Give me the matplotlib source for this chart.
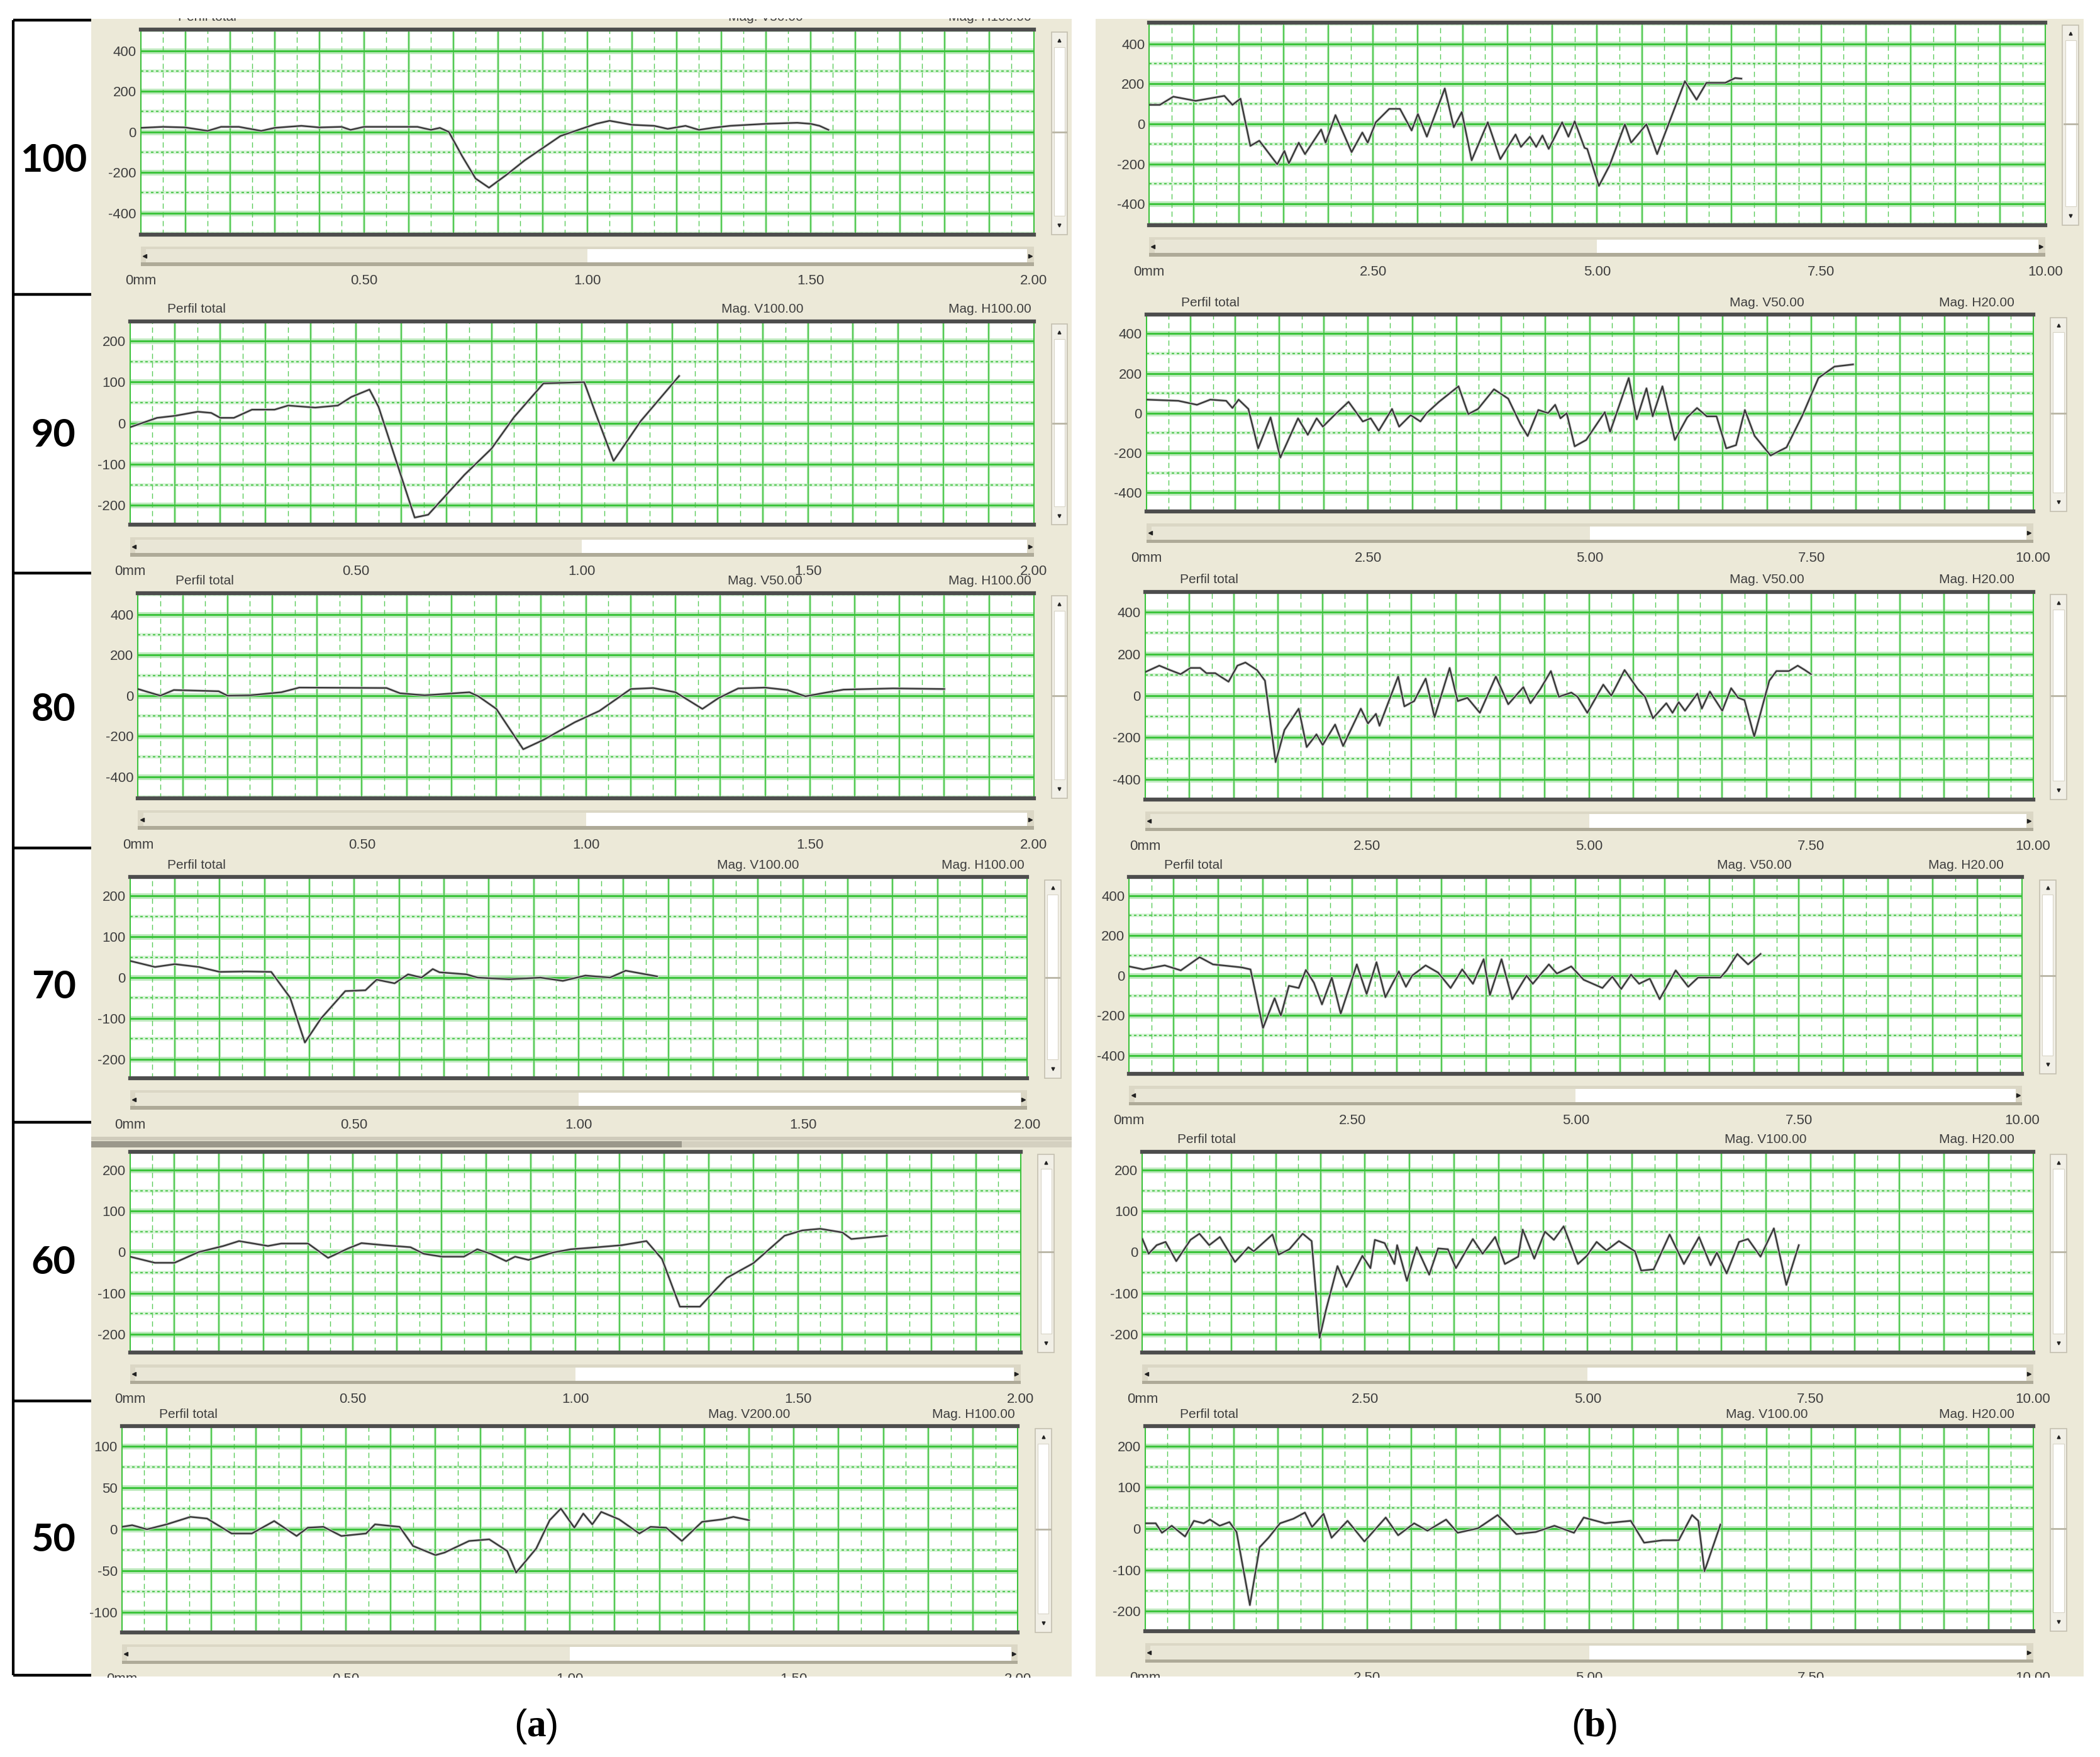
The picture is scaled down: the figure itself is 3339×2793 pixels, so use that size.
import numpy as np
import matplotlib
matplotlib.use("Agg")
import matplotlib.pyplot as plt
from matplotlib.patches import Rectangle

plt.rcParams["font.family"] = ["Liberation Sans", "DejaVu Sans"]
plt.rcParams["mathtext.fontset"] = "custom"
plt.rcParams["mathtext.rm"] = "Liberation Serif"
plt.rcParams["mathtext.bf"] = "Liberation Serif:bold"

# ---- profiles, column (a): distance in mm, height ----
a100_x = [0.00, 0.05, 0.10, 0.15, 0.18, 0.22, 0.27, 0.30, 0.36, 0.40, 0.45, 0.47, 0.50, 0.55, 0.62,
          0.65, 0.67, 0.69, 0.72, 0.75, 0.78, 0.82, 0.86, 0.90, 0.94, 0.98, 1.02, 1.05, 1.10, 1.15,
          1.18, 1.22, 1.25, 1.28, 1.32, 1.40, 1.47, 1.50, 1.52, 1.54]
a100_y = [20, 25, 22, 5, 25, 25, 5, 20, 30, 22, 25, 10, 25, 25, 25, 10, 20, 0, -120, -230,
          -275, -210, -140, -80, -20, 10, 40, 55, 35, 30, 15, 30, 10, 20, 30, 40, 45, 40, 30, 10]

a90_x = [0.00, 0.06, 0.10, 0.15, 0.18, 0.20, 0.23, 0.27, 0.32, 0.35, 0.41, 0.46, 0.49, 0.53, 0.55,
         0.63, 0.66, 0.74, 0.80, 0.85, 0.915, 1.005, 1.03, 1.07, 1.13, 1.215]
a90_y = [-10, 13, 18, 28, 25, 13, 13, 33, 33, 43, 38, 43, 64, 82, 40, -230, -223, -126, -62, 15,
         97, 100, 25, -92, 5, 115]

a80_x = [0.00, 0.05, 0.08, 0.18, 0.20, 0.25, 0.32, 0.36, 0.555, 0.585, 0.64, 0.74, 0.76, 0.80, 0.86,
         0.905, 0.975, 1.03, 1.10, 1.15, 1.20, 1.26, 1.295, 1.34, 1.40, 1.45, 1.49, 1.54, 1.575,
         1.685, 1.80]
a80_y = [33, 0, 28, 22, 0, 2, 17, 40, 38, 12, 2, 17, -3, -65, -264, -218, -131, -75, 33, 38, 17,
         -65, -13, 36, 40, 28, -3, 17, 30, 36, 33]

a70_x = [0.00, 0.056, 0.10, 0.154, 0.20, 0.26, 0.315, 0.357, 0.39, 0.426, 0.48, 0.525, 0.55, 0.59,
         0.62, 0.65, 0.675, 0.69, 0.75, 0.775, 0.845, 0.915, 0.965, 1.015, 1.07, 1.105, 1.14, 1.175]
a70_y = [41, 26, 33, 26, 14, 15, 14, -49, -159, -100, -33, -31, -5, -14, 8, 0, 21, 13, 8, 0, -4,
         0, -8, 5, 0, 17, 10, 3]

a60_x = [0.00, 0.056, 0.10, 0.154, 0.21, 0.245, 0.31, 0.34, 0.40, 0.445, 0.49, 0.52, 0.57, 0.63,
         0.66, 0.70, 0.75, 0.78, 0.81, 0.845, 0.865, 0.895, 0.95, 0.99, 1.05, 1.105, 1.16, 1.195,
         1.235, 1.28, 1.34, 1.40, 1.47, 1.51, 1.55, 1.60, 1.62, 1.65, 1.70]
a60_y = [-11, -26, -26, 0, 15, 27, 15, 21, 21, -14, 9, 22, 17, 12, -4, -11, -11, 7, -4, -22, -11,
         -19, -1, 7, 12, 17, 27, -17, -133, -133, -63, -27, 40, 53, 57, 48, 32, 35, 40]

a50_x = [0.00, 0.023, 0.056, 0.10, 0.153, 0.19, 0.245, 0.29, 0.34, 0.39, 0.415, 0.45, 0.49, 0.545,
         0.565, 0.62, 0.65, 0.70, 0.72, 0.775, 0.82, 0.86, 0.88, 0.925, 0.955, 0.98, 1.01, 1.03,
         1.05, 1.07, 1.11, 1.155, 1.18, 1.215, 1.25, 1.295, 1.34, 1.365, 1.40]
a50_y = [3, 5, 0, 6, 15, 13, -5, -5, 10, -8, 2, 3, -8, -5, 6, 3, -20, -31, -28, -14, -12, -26,
         -52, -23, 11, 25, 2, 19, 6, 21, 12, -5, 3, 2, -14, 9, 12, 15, 11]

# ---- profiles, column (b) ----
b100_x = [0, 0.12, 0.27, 0.52, 0.84, 0.93, 1.02, 1.13, 1.23, 1.43, 1.51, 1.56, 1.67, 1.74, 1.92,
          1.97, 2.08, 2.26, 2.38, 2.44, 2.53, 2.68, 2.80, 2.93, 3.00, 3.10, 3.30, 3.40, 3.49, 3.60,
          3.78, 3.92, 4.09, 4.15, 4.25, 4.32, 4.39, 4.46, 4.61, 4.68, 4.75, 4.86, 4.89, 5.02, 5.14,
          5.31, 5.38, 5.55, 5.67, 5.98, 6.11, 6.22, 6.43, 6.54, 6.61]
b100_y = [95, 95, 136, 115, 140, 95, 126, -110, -84, -202, -135, -197, -94, -151, -28, -94, 44,
          -141, -43, -94, 8, 75, 75, -33, 49, -64, 177, -17, 59, -182, 8, -176, -53, -115, -64,
          -115, -58, -125, 8, -64, 13, -120, -125, -310, -207, -2, -94, -2, -151, 213, 121, 205,
          205, 229, 226]

b90_x = [0, 0.36, 0.57, 0.72, 0.90, 0.97, 1.04, 1.15, 1.26, 1.40, 1.51, 1.71, 1.82, 1.92, 1.99,
         2.12, 2.28, 2.44, 2.53, 2.62, 2.77, 2.85, 2.98, 3.09, 3.16, 3.30, 3.52, 3.63, 3.74, 3.92,
         4.08, 4.22, 4.30, 4.42, 4.53, 4.61, 4.67, 4.74, 4.83, 4.96, 5.06, 5.17, 5.23, 5.44, 5.53,
         5.64, 5.71, 5.82, 5.96, 6.10, 6.21, 6.32, 6.43, 6.54, 6.65, 6.75, 6.86, 7.04, 7.22, 7.40,
         7.58, 7.76, 7.97]
b90_y = [68, 62, 42, 68, 62, 26, 68, 21, -177, -21, -224, -26, -109, -26, -68, -10, 57, -42, -26,
         -89, 21, -68, -10, -42, 0, 57, 135, -5, 21, 120, 73, -57, -115, 16, 0, 42, -26, 0, -167,
         -135, -68, 5, -94, 177, -31, 125, -16, 135, -135, -21, 26, -16, -16, -177, -161, 16,
         -115, -213, -172, -10, 177, 234, 245]

b80_x = [0, 0.16, 0.28, 0.40, 0.51, 0.62, 0.69, 0.79, 0.94, 1.04, 1.13, 1.26, 1.35, 1.47, 1.57,
         1.73, 1.82, 1.93, 2.00, 2.14, 2.23, 2.43, 2.51, 2.60, 2.64, 2.85, 2.92, 3.03, 3.16, 3.26,
         3.43, 3.52, 3.63, 3.77, 3.95, 4.09, 4.26, 4.34, 4.45, 4.57, 4.66, 4.80, 4.87, 4.98, 5.16,
         5.25, 5.40, 5.55, 5.63, 5.72, 5.87, 5.94, 6.01, 6.08, 6.22, 6.27, 6.36, 6.50, 6.60, 6.68,
         6.75, 6.86, 7.03, 7.11, 7.25, 7.35, 7.43, 7.50]
b80_y = [113, 144, 123, 103, 133, 133, 108, 108, 67, 144, 159, 123, 72, -318, -164, -62, -246,
         -185, -236, -138, -241, -62, -133, -87, -144, 92, -51, -26, 82, -103, 133, -26, -10, -82,
         92, -41, 41, -36, 31, 118, -5, 15, -5, -82, 53, 0, 123, 31, -5, -108, -36, -82, -31, -72,
         10, -62, 20, -72, 36, -10, -21, -195, 72, 118, 118, 144, 123, 103]

b70_x = [0, 0.16, 0.40, 0.58, 0.79, 0.94, 1.26, 1.36, 1.50, 1.63, 1.70, 1.79, 1.90, 1.98, 2.07,
         2.16, 2.27, 2.37, 2.55, 2.66, 2.77, 2.87, 3.02, 3.10, 3.17, 3.32, 3.46, 3.60, 3.73, 3.85,
         3.97, 4.04, 4.17, 4.29, 4.45, 4.52, 4.70, 4.79, 4.95, 5.09, 5.30, 5.41, 5.51, 5.62, 5.71,
         5.83, 5.94, 6.12, 6.26, 6.37, 6.62, 6.69, 6.81, 6.93, 7.07]
b70_y = [46, 31, 51, 26, 92, 56, 41, 31, -262, -113, -200, -51, -62, 28, -36, -144, -10, -190,
         56, -92, 67, -108, 21, -56, 0, 51, 15, -62, 31, -41, 82, -97, 82, -118, 0, -41, 56, 10,
         46, -21, -62, -5, -67, 5, -41, -15, -118, 26, -56, -10, -10, 26, 108, 56, 108]

b60_x = [0, 0.07, 0.16, 0.26, 0.38, 0.54, 0.64, 0.75, 0.87, 1.04, 1.19, 1.25, 1.46, 1.53, 1.65,
         1.80, 1.90, 1.99, 2.06, 2.19, 2.29, 2.47, 2.56, 2.61, 2.72, 2.83, 2.86, 2.97, 3.08, 3.22,
         3.32, 3.43, 3.52, 3.71, 3.82, 3.96, 4.07, 4.22, 4.27, 4.40, 4.52, 4.62, 4.73, 4.89, 4.99,
         5.10, 5.21, 5.35, 5.53, 5.60, 5.74, 5.92, 6.08, 6.25, 6.38, 6.45, 6.56, 6.70, 6.80, 6.94,
         7.09, 7.23, 7.37]
b60_y = [32, -4, 17, 25, -22, 30, 45, 17, 37, -24, 12, 2, 43, -6, 7, 45, 27, -209, -142, -34,
         -85, -9, -39, 30, 22, -29, 17, -70, 12, -55, 9, 7, -39, 32, -4, 37, -29, -11, 55, -16,
         50, 30, 63, -29, -9, 25, 4, 27, 2, -45, -42, 43, -29, 37, -32, -1, -52, 25, 32, -11, 58,
         -80, 17]

b50_x = [0, 0.12, 0.19, 0.30, 0.45, 0.55, 0.66, 0.73, 0.84, 0.95, 1.03, 1.18, 1.29, 1.39, 1.52,
         1.67, 1.80, 1.88, 2.01, 2.10, 2.28, 2.47, 2.71, 2.85, 3.03, 3.18, 3.39, 3.52, 3.75, 3.97,
         4.18, 4.40, 4.61, 4.83, 4.94, 5.18, 5.47, 5.62, 5.83, 6.01, 6.16, 6.23, 6.30, 6.48]
b50_y = [13, 13, -10, 7, -19, 19, 13, 22, 7, 16, -8, -185, -45, -22, 13, 24, 39, 4, 36, -22, 19,
         -31, 27, -16, 13, -5, 22, -10, 1, 33, -13, -8, 7, -10, 27, 13, 19, -34, -28, -28, 33, 19,
         -103, 10]

row_labels = ["100", "90", "80", "70", "60", "50"]
mag_v_a = ["V50.00", "V100.00", "V50.00", "V100.00", None, "V200.00"]
mag_h_a = ["H100.00", "H100.00", "H100.00", "H100.00", None, "H100.00"]
mag_v_b = [None, "V50.00", "V50.00", "V50.00", "V100.00", "V100.00"]
mag_h_b = [None, "H20.00", "H20.00", "H20.00", "H20.00", "H20.00"]
xlabels_a = ["0mm", "0.50", "1.00", "1.50", "2.00"]
xlabels_b = ["0mm", "2.50", "5.00", "7.50", "10.00"]

# ---- layout (in 1568 x 1312 reference pixels) ----
W, H = 1568, 1312
ROW_EDGES = [15, 220, 428, 633, 838, 1046, 1251]
ROW_MID = [120, 325, 530, 737, 943, 1150]
BOX_A = [(105, 22, 772, 175), (97, 240, 772, 392), (103, 443, 772, 596),
         (97, 655, 767, 805), (97, 860, 762, 1010), (91, 1065, 760, 1219)]
BOX_B = [(858, 17, 1527, 168), (856, 235, 1518, 382), (855, 442, 1518, 597),
         (843, 655, 1510, 802), (853, 860, 1518, 1010), (855, 1065, 1518, 1218)]
LIM_A = [(505, 200), (248, 100), (505, 200), (246, 100), (245, 100), (124, 50)]
LIM_B = [(505, 200), (495, 200), (497, 200), (492, 200), (245, 100), (248, 100)]

BEIGE = "#ECE9D8"
TXT = "#3e3e3e"

fig = plt.figure(figsize=(33.39, 27.93), dpi=100)
bg = fig.add_axes([0, 0, 1, 1], zorder=0)
bg.set_xlim(0, W)
bg.set_ylim(H, 0)
bg.axis("off")

bg.add_patch(Rectangle((68, 14), 732, 1238, fc=BEIGE, ec="none"))
bg.add_patch(Rectangle((818, 14), 738, 1238, fc=BEIGE, ec="none"))
# strip over the top of the 60 panel
bg.add_patch(Rectangle((68, 849), 732, 2.5, fc="#cfcbbb", ec="none"))
bg.add_patch(Rectangle((68, 852), 441, 5, fc="#9b988b", ec="none"))
bg.add_patch(Rectangle((509, 852), 291, 5, fc="#d4d0c0", ec="none"))

# label column
bg.plot([10, 10], [ROW_EDGES[0], ROW_EDGES[-1]], color="k", lw=3, solid_capstyle="butt")
for yb in ROW_EDGES:
    bg.plot([10, 68], [yb, yb], color="k", lw=3.2, solid_capstyle="butt")
for lab, ym in zip(row_labels, ROW_MID):
    bg.text(40, ym, lab, family="Lato", weight="bold", fontsize=44, ha="center", va="center")


def hscroll(x0, x1, ytop):
    mid = (x0 + x1) / 2
    bg.add_patch(Rectangle((x0, ytop), x1 - x0, 14, fc="#dbd7c5", ec="none"))
    bg.add_patch(Rectangle((x0 + 4, ytop + 2), mid - x0 - 4, 10, fc="#e9e6d6", ec="none"))
    bg.add_patch(Rectangle((mid, ytop + 2), x1 - 5 - mid, 10, fc="white", ec="none"))
    bg.add_patch(Rectangle((x0, ytop + 12), x1 - x0, 2.5, fc="#aeaa98", ec="none"))
    bg.plot([x0 + 3], [ytop + 7], marker="<", ms=4, color="#222222")
    bg.plot([x1 - 3], [ytop + 7], marker=">", ms=4, color="#222222")


def vscroll(x, y0, y1):
    bg.add_patch(Rectangle((x, y0 + 2), 12, y1 - y0 - 2, fc="#f1efe6", ec="#c4c0b0", lw=1.2))
    bg.add_patch(Rectangle((x + 2, y0 + 13), 8, y1 - y0 - 27, fc="white", ec="#d8d4c6", lw=0.8))
    bg.plot([x + 6], [y0 + 8], marker="^", ms=3.5, color="#222222")
    bg.plot([x + 6], [y1 - 7], marker="v", ms=3.5, color="#222222")
    ym = (y0 + y1) / 2
    bg.plot([x + 1, x + 11], [ym, ym], color="#b8b4a4", lw=2)


def panel(xs, ys, box, lim, xmax, xlabels, mag_v, mag_h, right):
    x0, y0, x1, y1 = box
    ylim, ystep = lim
    ax = fig.add_axes([x0 / W, 1 - y1 / H, (x1 - x0) / W, (y1 - y0) / H], zorder=2)
    ax.set_facecolor("white")
    ax.set_xlim(0, xmax)
    ax.set_ylim(-ylim, ylim)

    step = xmax / 20
    for i in range(1, 20):
        ax.axvline(i * step, color="#c8efc8", lw=3.2, zorder=1)
        ax.axvline(i * step, color="#3cc23c", lw=1.2, zorder=1.5)
    for i in range(20):
        ax.axvline((i + 0.5) * step, color="#58cb58", lw=1.0, dashes=(6, 4), zorder=1.5)
    k = int(ylim // ystep)
    for v in np.arange(-k, k + 1) * ystep:
        ax.axhline(v, color="#bfeabf", lw=6.5, zorder=1)
        ax.axhline(v, color="#3cc43c", lw=2.2, zorder=1.6)
    for v in (np.arange(-k - 1, k + 1) + 0.5) * ystep:
        if abs(v) < ylim - 2:
            ax.axhline(v, color="#d8f3d8", lw=4, zorder=1)
            ax.axhline(v, color="#55c955", lw=1.6, dashes=(1.8, 1.8), zorder=1.6)

    ax.plot(xs, ys, color="#d0d0d0", lw=3.2, zorder=2.5)
    ax.plot(xs, ys, color="#363636", lw=1.7, zorder=3)

    for side in ("top", "bottom"):
        ax.spines[side].set_color("#4d4d4d")
        ax.spines[side].set_linewidth(4.5)
    for side in ("left", "right"):
        ax.spines[side].set_color("#3cc23c")
        ax.spines[side].set_linewidth(1.5)

    yt = np.arange(-2, 3) * ystep
    ax.set_yticks(yt, [str(int(v)) for v in yt])
    ax.set_xticks(np.linspace(0, xmax, 5), xlabels)
    ax.tick_params(length=0, labelsize=16, labelcolor=TXT)
    ax.tick_params(axis="x", pad=46)
    ax.tick_params(axis="y", pad=5)

    hscroll(x0, x1, y1 + 9)
    vscroll(x1 + 13, y0, y1)

    if mag_v is not None:
        hy = y0 - 9
        bg.text(x0 + (26 if right else 28), hy, "Perfil total", fontsize=15, color=TXT,
                ha="left", va="center")
        bg.text(x0 + 0.70 * (x1 - x0), hy, "Mag. " + mag_v, fontsize=15, color=TXT,
                ha="center", va="center")
        bg.text(x1 - (14 if right else 2), hy, "Mag. " + mag_h, fontsize=15, color=TXT,
                ha="right", va="center")


series_a = [(a100_x, a100_y), (a90_x, a90_y), (a80_x, a80_y),
            (a70_x, a70_y), (a60_x, a60_y), (a50_x, a50_y)]
series_b = [(b100_x, b100_y), (b90_x, b90_y), (b80_x, b80_y),
            (b70_x, b70_y), (b60_x, b60_y), (b50_x, b50_y)]

for i in range(6):
    xs, ys = series_a[i]
    panel(xs, ys, BOX_A[i], LIM_A[i], 2.0, xlabels_a, mag_v_a[i], mag_h_a[i], False)
    xs, ys = series_b[i]
    panel(xs, ys, BOX_B[i], LIM_B[i], 10.0, xlabels_b, mag_v_b[i], mag_h_b[i], True)

# white margins that crop the screenshots
top = fig.add_axes([0, 1 - 13.5 / H, 1, 13.5 / H], zorder=5)
top.axis("off")
top.add_patch(Rectangle((0, 0), 1, 1, transform=top.transAxes, fc="white", ec="none"))

bot = fig.add_axes([0, 0, 1, (H - 1253) / H], zorder=5)
bot.set_xlim(0, W)
bot.set_ylim(H, 1253)
bot.axis("off")
bot.add_patch(Rectangle((0, 1253), W, H - 1253, fc="white", ec="none"))
bot.text(400, 1289, r"($\mathbf{a}$)", fontsize=44, ha="center", va="center")
bot.text(1190, 1289, r"($\mathbf{b}$)", fontsize=44, ha="center", va="center")

fig.savefig("out.png", dpi=100, facecolor="white")
